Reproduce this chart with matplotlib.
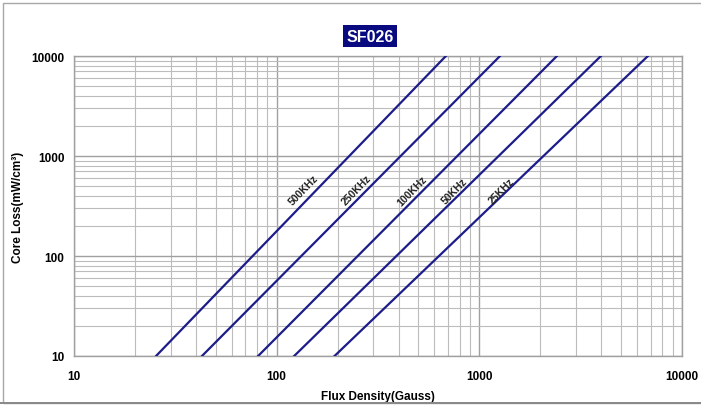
import numpy as np
import matplotlib
matplotlib.use('Agg')
import matplotlib.pyplot as plt
from matplotlib.patches import Rectangle
from matplotlib.ticker import FixedLocator, NullFormatter, LogLocator

NAVY = '#1c1c8a'
GRID = '#bcbcbc'
plt.rcParams['font.family'] = ['Liberation Sans', 'DejaVu Sans']

# curvas de pérdidas: densidad de flujo (G) donde cortan 10 y 10000 mW/cm3
freqs = ['500KHz', '250KHz', '100KHz', '50KHz', '25KHz']
b_low = [25.4, 42.8, 81, 122, 193]
b_high = [684, 1265, 2415, 3980, 6790]
p_ends = [10, 10000]
# posición de las etiquetas (B, P)
lab_b = [135, 249, 465, 758, 1291]
lab_p = [468, 468, 457, 457, 447]

x_ticks = [10, 100, 1000, 10000]
y_ticks = [10, 100, 1000, 10000]

fig = plt.figure(figsize=(7.01, 4.10), dpi=100)
# marco exterior de la figura
fig.patches.append(Rectangle((3 / 701, 6 / 410), 1.2, 400 / 410,
                             transform=fig.transFigure, fill=False,
                             edgecolor='#a8a8a8', lw=1.0))
fig.patches.append(Rectangle((0, 5 / 410), 1, 2.5 / 410, transform=fig.transFigure,
                             color='#8a8a8a', lw=0))
ax = fig.add_axes([74 / 701, 53 / 410, 608 / 701, 300 / 410])
ax.set_xscale('log'); ax.set_yscale('log')
ax.set_xlim(10, 10000); ax.set_ylim(10, 10000)

for f, b0, b1, lb, lp in zip(freqs, b_low, b_high, lab_b, lab_p):
    ax.plot([b0, b1], p_ends, color=NAVY, lw=1.6, zorder=3)
    ax.text(lb, lp, f, rotation=46, ha='center', va='center', fontsize=7.5,
            fontweight='bold', color='#222222', zorder=4)

ax.xaxis.set_major_locator(FixedLocator(x_ticks))
ax.yaxis.set_major_locator(FixedLocator(y_ticks))
ax.xaxis.set_minor_locator(LogLocator(base=10, subs=np.arange(2, 10)))
ax.yaxis.set_minor_locator(LogLocator(base=10, subs=np.arange(2, 10)))
ax.xaxis.set_minor_formatter(NullFormatter())
ax.yaxis.set_minor_formatter(NullFormatter())
ax.set_xticklabels([str(t) for t in x_ticks])
ax.set_yticklabels([str(t) for t in y_ticks])
ax.tick_params(which='both', length=0, labelsize=8.5)
ax.tick_params(axis='y', pad=7)
ax.tick_params(axis='x', pad=10)
for lab in ax.get_xticklabels() + ax.get_yticklabels():
    lab.set_fontweight('bold')
ax.grid(which='major', color='#a0a0a0', lw=1.0)
ax.grid(which='minor', color=GRID, lw=0.8)
for s in ax.spines.values():
    s.set_color('#a0a0a0'); s.set_linewidth(1.0)

ax.set_xlabel('Flux Density(Gauss)', fontsize=8.5, fontweight='bold', labelpad=6)
fig.text(18 / 701, 1 - 207 / 410, 'Core Loss(mW/cm³)', rotation=90, ha='center',
         va='center', fontsize=8.5, fontweight='bold')
fig.text(370 / 701, 1 - 37 / 410, 'SF026', ha='center', va='center', fontsize=11.5,
         fontweight='bold', color='white',
         bbox=dict(boxstyle='square,pad=0.2', facecolor='#0a0a80', edgecolor='none'))

fig.savefig('out.png', dpi=100)
